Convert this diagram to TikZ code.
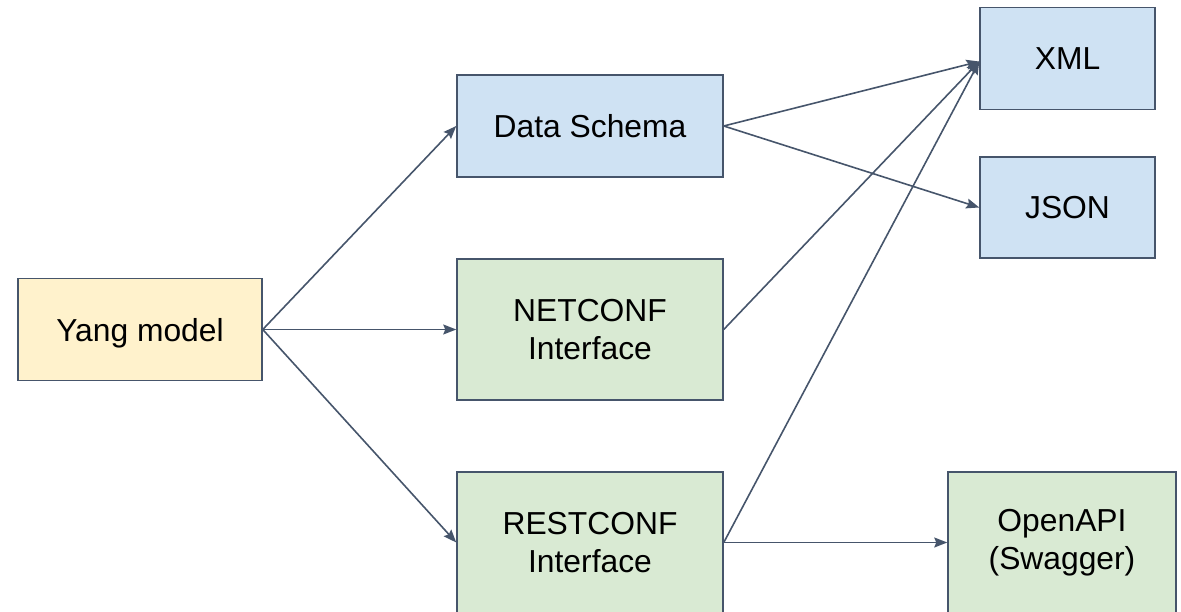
\documentclass[tikz,border=0pt]{standalone}
\usepackage{fontspec}
\setmainfont{Liberation Sans}
\usetikzlibrary{arrows.meta}
\definecolor{edge}{HTML}{46556B}
\definecolor{yfill}{HTML}{FFF2CC}
\definecolor{bfill}{HTML}{CFE2F3}
\definecolor{gfill}{HTML}{D9EAD3}
\tikzset{
  box/.style={draw=edge, line width=1.5pt, align=center, inner sep=0pt,
    font=\fontsize{31.8}{38}\selectfont},
  conn/.style={draw=edge, line width=1.6pt, -{Stealth[length=13pt,width=10pt,inset=2pt]}}
}
\begin{document}
\begin{tikzpicture}[x=1pt,y=-1pt]
\useasboundingbox (0,0) rectangle (1181,612);
\node[box, fill=yfill, minimum width=244pt, minimum height=102pt, text depth=0pt] (yang) at (140,329.5) {Yang model};
\node[box, fill=bfill, minimum width=266pt, minimum height=102pt] (ds) at (590,126) {Data Schema};
\node[box, fill=gfill, minimum width=266pt, minimum height=141pt] (net) at (590,329.5) {NETCONF\\Interface};
\node[box, fill=gfill, minimum width=266pt, minimum height=141pt] (rest) at (590,542.5) {RESTCONF\\Interface};
\node[box, fill=bfill, minimum width=175pt, minimum height=102pt] (xml) at (1067.5,58.5) {XML};
\node[box, fill=bfill, minimum width=175pt, minimum height=101pt] (json) at (1067.5,207.5) {JSON};
\node[box, fill=gfill, minimum width=228pt, minimum height=141pt] (oapi) at (1062,542.5) {OpenAPI\\(Swagger)};
\coordinate (xmlin) at ([yshift=-3pt]xml.west);
\draw[conn] (yang.east) -- (ds.west);
\draw[conn] (yang.east) -- (net.west);
\draw[conn] (yang.east) -- (rest.west);
\draw[conn] (ds.east) -- (xmlin);
\draw[conn] (ds.east) -- (json.west);
\draw[conn] (net.east) -- (xmlin);
\draw[conn] (rest.east) -- (xmlin);
\draw[conn] (rest.east) -- (oapi.west);
\end{tikzpicture}
\end{document}
